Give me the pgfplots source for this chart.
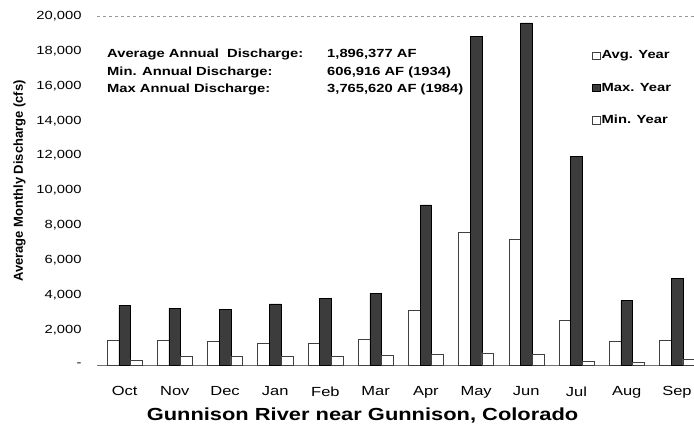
\documentclass[border=0pt]{standalone}
\usepackage{pgfplots}
\pgfplotsset{compat=1.18}
\usepackage{fontspec}
\setmainfont{Liberation Sans}[FakeStretch=1.25]
\newfontfamily\plainsans{Liberation Sans}
\definecolor{maxgray}{RGB}{60,60,60}
\pgfplotstableread{
idx avg max min
0 1400 3420 290
1 1400 3260 475
2 1340 3200 475
3 1250 3500 475
4 1250 3820 515
5 1470 4100 530
6 3150 9170 630
7 7600 18850 700
8 7220 19600 630
9 2580 11940 230
10 1370 3690 170
11 1410 4980 340
}\datatable
\begin{document}
\begin{tikzpicture}[x=1pt,y=1pt]
\useasboundingbox (0,0) rectangle (694,425);
\begin{axis}[
  at={(97pt,60pt)}, anchor=south west,
  scale only axis, width=597pt, height=349pt,
  xmin=-0.55, xmax=11.34, ymin=0, ymax=20000,
  scaled y ticks=false,
  axis line style={draw=none},
  major tick length=0pt,
  ybar=0pt, bar width=0.233,
  xtick={0,...,11},
  xticklabels={Oct,Nov,Dec,Jan,Feb,Mar,Apr,May,Jun,Jul,Aug,Sep},
  xticklabel style={font=\fontsize{13.2}{14}\selectfont, yshift=-18pt},
  ytick={0,2000,...,20000},
  yticklabels={-,{2,000},{4,000},{6,000},{8,000},{10,000},{12,000},{14,000},{16,000},{18,000},{20,000}},
  yticklabel style={font=\fontsize{11.8}{13}\selectfont, xshift=-12pt},
  legend style={draw=none, fill=none, at={(0.829,0.905)}, anchor=north west,
    font=\bfseries\fontsize{11.8}{13}\selectfont, row sep=19.5pt,
    inner sep=0pt, nodes={inner sep=1.5pt}},
  legend cell align=left,
  legend image code/.code={\draw[#1, line width=0.5pt] (0pt,-3.7pt) rectangle (7.5pt,3.7pt);},
  clip=false,
]
\draw[black!40, dashed, line width=0.6pt] (axis cs:-0.55,20000) -- (axis cs:11.34,20000);
\draw[black!55, line width=0.7pt] (axis cs:-0.55,0) -- (axis cs:11.34,0);
\addplot[fill=white, draw=black!75, line width=0.5pt] table[x=idx, y=avg] {\datatable};
\addplot[fill=maxgray, draw=black, line width=0.5pt] table[x=idx, y=max] {\datatable};
\addplot[fill=white, draw=black!75, line width=0.5pt] table[x=idx, y=min] {\datatable};
\legend{Avg. Year, Max. Year, Min. Year}
\end{axis}
\begin{scope}[every node/.style={anchor=base west, inner sep=0pt, font=\bfseries\fontsize{11.8}{13}\selectfont}]
\node at (107,367) {Average Annual\ \ Discharge:};
\node at (107,349) {Min. Annual Discharge:};
\node at (107,332) {Max Annual Discharge:};
\node at (327,367) {1,896,377 AF};
\node at (327,349) {606,916 AF (1934)};
\node at (327,332) {3,765,620 AF (1984)};
\end{scope}
\node[rotate=90, anchor=base, inner sep=0pt, font=\plainsans\bfseries\fontsize{13}{14}\selectfont] at (23,244) {Average Monthly Discharge (cfs)};
\node[anchor=base, inner sep=0pt, font=\bfseries\fontsize{17.5}{19}\selectfont] at (362.5,4) {Gunnison River near Gunnison, Colorado};
\end{tikzpicture}
\end{document}
